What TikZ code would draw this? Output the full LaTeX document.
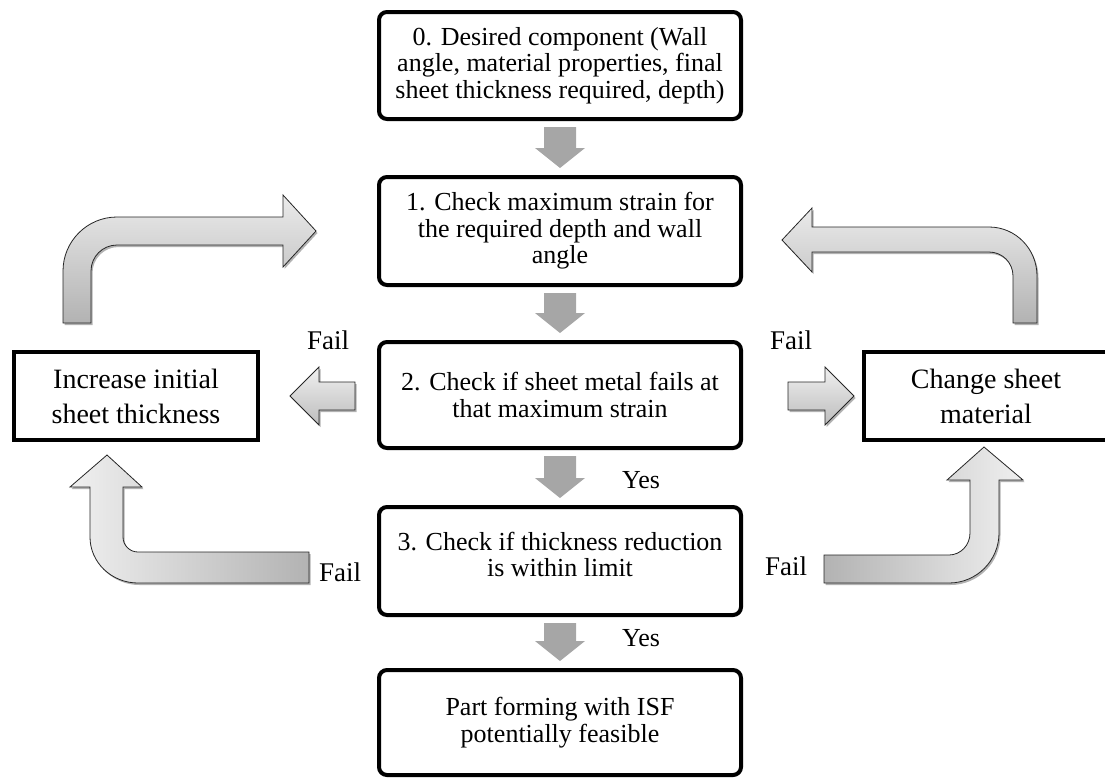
\documentclass[tikz,border=0pt]{standalone}
\usepackage{fontspec}
\setmainfont{Liberation Serif}
\usetikzlibrary{calc,shadows}
\begin{document}
\begin{tikzpicture}[x=1pt,y=-1pt,
  stepbox/.style={draw=black,line width=4pt,rounded corners=8pt,fill=white,
    minimum width=362pt,inner sep=0pt,align=center,
    font=\fontsize{26}{26.5}\selectfont},
  sidebox/.style={draw=black,line width=4pt,fill=white,
    minimum width=244pt,minimum height=88pt,inner sep=0pt,align=center,
    font=\fontsize{28}{35}\selectfont},
  lbl/.style={inner sep=0pt,font=\fontsize{27}{28}\selectfont},
  ylbl/.style={inner sep=0pt,font=\fontsize{26}{27}\selectfont},
  dnfill/.style={fill=black!35},
  blockarr/.style={draw=black!85,line width=0.8pt,
    drop shadow={shadow xshift=1.5pt,shadow yshift=-2pt,opacity=0.3,fill=black}},
  vshade/.style={top color=black!6,bottom color=black!26},
  vshadeb/.style={top color=black!8,bottom color=black!30}
]
\useasboundingbox (0,0) rectangle (1105,777);

% main column
\node[stepbox,minimum height=107pt] (b0) at (560,65.5)
  {0. Desired component (Wall\\angle, material properties, final\\sheet thickness required, depth)};
\node[stepbox,minimum height=108pt] (b1) at (560,231)
  {1. Check maximum strain for\\the required depth and wall\\angle};
\node[stepbox,minimum height=106pt] (b2) at (560,395)
  {2. Check if sheet metal fails at\\that maximum strain};
\node[stepbox,minimum height=108pt] (b3) at (560,561)
  {3. Check if thickness reduction\\is within limit\\[-13pt]\mbox{}};
\node[stepbox,minimum height=105pt] (b4) at (560,722.5)
  {Part forming with ISF\\potentially feasible};

% side boxes
\node[sidebox] (lb) at (136,396) {Increase initial\\sheet thickness};
\node[sidebox] (rb) at (986,396) {Change sheet\\material};

% down arrows between main boxes
\newcommand\dnarr[2]{%
  \path[dnfill] let \p1=(#1.south), \p2=(#2.north) in
    (\x1-16pt,\y1-6pt) -- (\x1+16pt,\y1-6pt) -- (\x1+16pt,\y2+27pt)
    -- (\x1+25pt,\y2+27pt) -- (\x1,\y2+7pt) -- (\x1-25pt,\y2+27pt)
    -- (\x1-16pt,\y2+27pt) -- cycle;}
\dnarr{b0}{b1}
\dnarr{b1}{b2}
\dnarr{b2}{b3}
\dnarr{b3}{b4}

% small side arrows from box 2
\path[blockarr,vshade] (355,382) -- (319,382) -- (319,367) -- (290,396)
  -- (319,425) -- (319,410) -- (355,410) -- cycle;
\path[blockarr,vshade] (788,382) -- (825,382) -- (825,367) -- (854,396)
  -- (825,425) -- (825,410) -- (788,410) -- cycle;

% top-left bent arrow (left box -> box 1)
\path[blockarr,vshadeb] (63,323) -- (63,271) .. controls (63,241.2) and (87.2,217) .. (117,217)
  -- (283,217) -- (283,195) -- (316,231) -- (283,267) -- (283,245) -- (117,245)
  .. controls (102.6,245) and (91,256.6) .. (91,271) -- (91,323) -- cycle;

% top-right bent arrow (right box -> box 1)
\path[blockarr,vshadeb] (1037,323) -- (1037,276) .. controls (1037,249) and (1015.8,227) .. (989,227)
  -- (812,227) -- (812,208) -- (782,240) -- (812,272) -- (812,252) -- (989,252)
  .. controls (1002.3,252) and (1013,262.7) .. (1013,276) -- (1013,323) -- cycle;

% lower-left bent arrow (box 3 -> left box)
\path[blockarr,left color=black!6,right color=black!30] (309,583) -- (138,583)
  .. controls (111.5,583) and (90,562.4) .. (90,537) -- (90,487) -- (70,487) -- (107,455)
  -- (142,487) -- (123,487) -- (123,537) .. controls (123,545.3) and (129.7,552) .. (138,552)
  -- (309,552) -- cycle;

% lower-right bent arrow (box 3 -> right box)
\path[blockarr,left color=black!30,right color=black!6] (824,555) -- (949,555)
  .. controls (960.6,555) and (970,545.1) .. (970,533) -- (970,480) -- (947,480) -- (984,447)
  -- (1023,480) -- (999,480) -- (999,533) .. controls (999,560.6) and (976.6,583) .. (949,583)
  -- (824,583) -- cycle;

% labels
\node[lbl] (f1) at (328,340) {Fail};
\node[lbl] (f2) at (791,340) {Fail};
\node[lbl] (f3) at (340,572) {Fail};
\node[lbl] (f4) at (786,566) {Fail};
\node[ylbl] (y1) at (641,480) {Yes};
\node[ylbl] (y2) at (641,638) {Yes};
\end{tikzpicture}
\end{document}
